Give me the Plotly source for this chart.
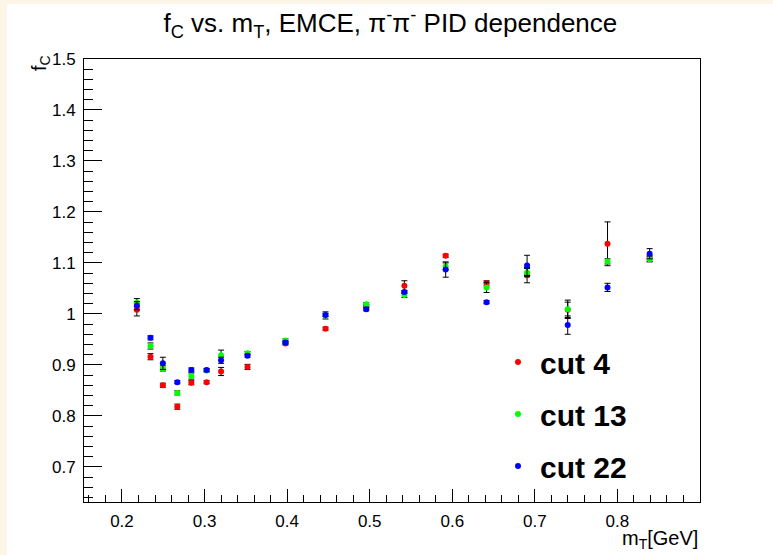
import plotly.graph_objects as go

# ---- data ----
mt = [0.218, 0.2345, 0.2495, 0.267, 0.284, 0.3025, 0.320, 0.352, 0.398, 0.4465,
      0.4958, 0.542, 0.592, 0.6415, 0.6906, 0.7398, 0.788, 0.839]

fc_cut4 = [1.008, 0.916, 0.860, 0.818, 0.865, 0.866, 0.887, 0.896, 0.942, 0.971,
           1.015, 1.055, 1.114, 1.060, 1.076, 1.008, 1.1375, 1.109]
err_cut4 = [0.012, 0.006, 0.004, 0.005, 0.004, 0.003, 0.008, 0.005, 0.003, 0.003,
            0.003, 0.010, 0.003, 0.005, 0.015, 0.015, 0.043, 0.006]

fc_cut13 = [1.022, 0.937, 0.893, 0.845, 0.878, 0.889, 0.919, 0.923, 0.948, 0.997,
            1.019, 1.037, 1.093, 1.052, 1.081, 1.009, 1.103, 1.107]
err_cut13 = [0.008, 0.006, 0.005, 0.004, 0.006, 0.003, 0.010, 0.003, 0.003, 0.007,
             0.003, 0.005, 0.007, 0.010, 0.008, 0.018, 0.005, 0.005]

fc_cut22 = [1.016, 0.953, 0.903, 0.866, 0.890, 0.890, 0.909, 0.918, 0.944, 0.998,
            1.009, 1.043, 1.087, 1.023, 1.095, 0.978, 1.052, 1.118]
err_cut22 = [0.008, 0.004, 0.012, 0.003, 0.004, 0.003, 0.006, 0.003, 0.003, 0.003,
             0.003, 0.003, 0.015, 0.003, 0.020, 0.018, 0.008, 0.010]

series = [("cut 4", fc_cut4, err_cut4, "#ff0000"),
          ("cut 13", fc_cut13, err_cut13, "#00ff00"),
          ("cut 22", fc_cut22, err_cut22, "#0000ff")]

fig = go.Figure()
for i, (name, y, e, col) in enumerate(series):
    fig.add_trace(go.Scatter(
        x=mt, y=y, name=name, mode="markers",
        marker=dict(color=col, size=6, line=dict(width=0)),
        error_y=dict(type="data", array=e, visible=True, color="black",
                     thickness=1, width=3),
        legendgroup=name,
    ))

# plot area in px: x 84..700, y 59..502
W, H = 773, 555
L, R, T, B = 84, 700, 59, 502
pw, ph = R - L, B - T

def px_x(p):
    return (p - L) / pw

def px_y(p):
    return (B - p) / ph

axis_common = dict(
    showgrid=False, zeroline=False, showline=True, linecolor="black",
    linewidth=1, mirror=True, ticks="inside", tickcolor="black",
    tickfont=dict(family="Liberation Sans, Arial", size=17, color="black"),
)

fig.update_layout(
    width=W, height=H,
    margin=dict(l=L, r=W - R, t=T, b=H - B),
    paper_bgcolor="#fdf5e6", plot_bgcolor="white",
    font=dict(family="Liberation Sans, Arial", color="black"),
    title=dict(text="f<sub>C</sub> vs. m<sub>T</sub>, EMCE, π<sup>-</sup>π<sup>-</sup> PID dependence",
               x=0.505, xanchor="center", y=1 - 23 / H, yanchor="middle",
               font=dict(size=26, color="black")),
    xaxis=dict(range=[0.154, 0.900], tickvals=[0.2, 0.3, 0.4, 0.5, 0.6, 0.7, 0.8],
               ticktext=["0.2", "0.3", "0.4", "0.5", "0.6", "0.7", "0.8"],
               ticklen=13, ticklabelstandoff=4,
               minor=dict(dtick=0.02, tick0=0.0, ticks="inside", ticklen=7,
                          tickcolor="black", showgrid=False),
               **axis_common),
    yaxis=dict(range=[0.631, 1.5], tickvals=[0.7, 0.8, 0.9, 1.0, 1.1, 1.2, 1.3, 1.4, 1.5],
               ticktext=["0.7", "0.8", "0.9", "1", "1.1", "1.2", "1.3", "1.4", "1.5"],
               ticklen=18, ticklabelstandoff=4,
               minor=dict(dtick=0.02, tick0=0.0, ticks="inside", ticklen=9,
                          tickcolor="black", showgrid=False),
               **axis_common),
    legend=dict(x=px_x(496), y=px_y(336), xanchor="left", yanchor="top",
                bgcolor="rgba(0,0,0,0)", borderwidth=0, itemwidth=34,
                traceorder="grouped", tracegroupgap=10,
                font=dict(family="Liberation Sans, Arial", size=30, color="black",
                          weight="bold")),
    showlegend=True,
)

# white canvas with thin beige strip on the left and top
fig.add_shape(type="rect", xref="paper", yref="paper", layer="below",
              x0=px_x(7), x1=px_x(W + 10), y0=px_y(H + 10), y1=px_y(4),
              fillcolor="white", line=dict(width=0))

fig.add_annotation(text="m<sub>T</sub>[GeV]", xref="paper", yref="paper",
                   x=1.0, xanchor="right", y=px_y(539), yanchor="middle",
                   showarrow=False, font=dict(size=20, color="black"))
fig.add_annotation(text="f<sub>C</sub>", xref="paper", yref="paper",
                   x=px_x(41), xanchor="center", y=px_y(53), yanchor="top",
                   textangle=-90, showarrow=False, font=dict(size=20, color="black"))

fig.write_html("out.html")
